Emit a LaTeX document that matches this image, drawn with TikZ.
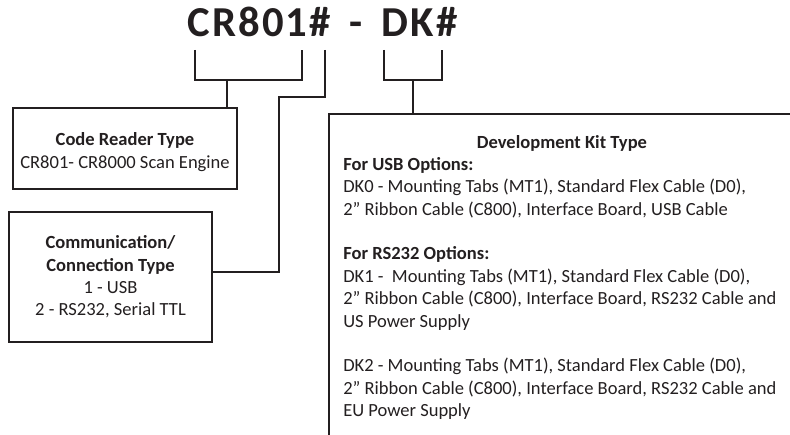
\documentclass[tikz,border=0pt]{standalone}
\usepackage{fontspec}
\setmainfont{Carlito}
\newfontfamily\titlefont[LetterSpace=5]{Carlito}
\usetikzlibrary{positioning}
\definecolor{ink}{HTML}{231F20}

\begin{document}
\begin{tikzpicture}[
  x=0.75pt, y=0.75pt,
  node distance=4pt and 0pt,
  box/.style={draw=ink, line width=1.4pt, align=center, inner sep=0pt, text=ink, font={\fontsize{13.9}{16.8}\selectfont}},
  body/.style={align=left, inner sep=0pt, text=ink, font={\fontsize{13.9}{16.8}\selectfont}},
  wire/.style={draw=ink, line width=1.4pt}
]
\useasboundingbox (0,-435) rectangle (790,0);
\clip (0,-435) rectangle (790,0);

\node[anchor=base, text=ink, font={\titlefont\bfseries\fontsize{32}{36}\selectfont}] (title) at (322.5,-37) {CR801\#\,\ -\,\ DK\#};

\coordinate (crL) at (195,-50);
\coordinate (crR) at (302,-50);
\coordinate (hash) at (325,-50);
\coordinate (dkL) at (384,-50);
\coordinate (dkR) at (442,-50);
\coordinate (crmid) at (227,-80);
\coordinate (hashbend) at (279,-97);
\coordinate (dkmid) at (413,-80);

\node[box, minimum width=168pt, minimum height=60.75pt] (cr) at (125,-148.5) {\rule{0pt}{15pt}\textbf{Code Reader Type}\\[1pt]CR801- CR8000 Scan Engine};
\node[box, minimum width=152.25pt, minimum height=97.5pt] (comm) at (110.5,-277) {\textbf{Communication/}\\\textbf{Connection Type}\\1 - USB\\2 - RS232, Serial TTL};
\node[box, anchor=north west, minimum width=354pt, minimum height=249pt] (dk) at (328,-113) {};

\node[body, anchor=base, font={\bfseries\fontsize{13.9}{16.8}\selectfont}] (dktitle) at (562,-149) {Development Kit Type};
\node[body, anchor=north west] (dktext) at (343,-157) {\textbf{For USB Options:}\\
DK0 - Mounting Tabs (MT1), Standard Flex Cable (D0),\\
2” Ribbon Cable (C800), Interface Board, USB Cable\\[16.8pt]
\textbf{For RS232 Options:}\\
DK1 -\ \ Mounting Tabs (MT1), Standard Flex Cable (D0),\\
2” Ribbon Cable (C800), Interface Board, RS232 Cable and\\
US Power Supply\\[16.8pt]
DK2 - Mounting Tabs (MT1), Standard Flex Cable (D0),\\
2” Ribbon Cable (C800), Interface Board, RS232 Cable and\\
EU Power Supply};

% brackets under the part number
\draw[wire] (crL) -- ++(0,-30) -| (crR);
\draw[wire] (dkL) -- ++(0,-30) -| (dkR);
\draw[wire] (crmid) -- (crmid |- cr.north);
\draw[wire] (dkmid) -- (dkmid |- dk.north);
\draw[wire] (hash) |- (hashbend) |- ([yshift=3.75pt]comm.east);
\end{tikzpicture}
\end{document}
